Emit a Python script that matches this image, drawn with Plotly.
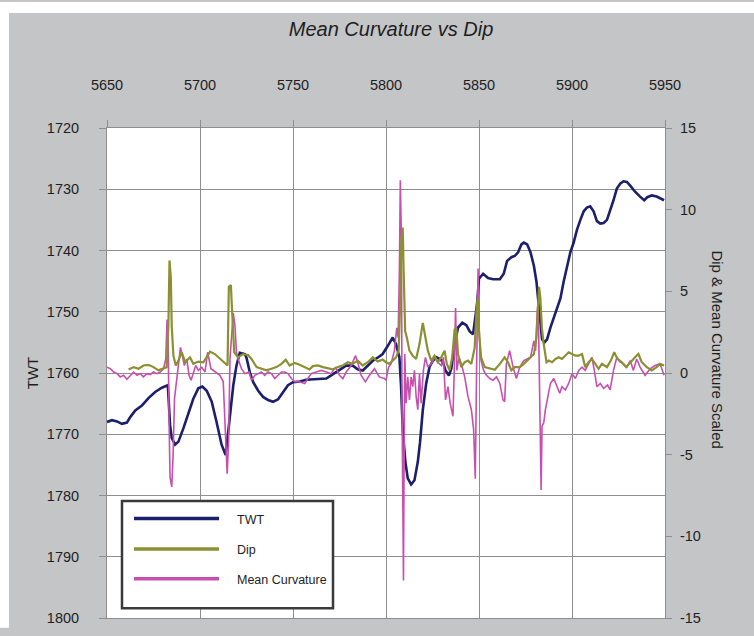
import plotly.graph_objects as go

# ---------------- data ----------------
twt_x = [5650.0, 5652.7, 5655.4, 5658.0, 5660.7, 5662.5, 5665.2, 5668.8, 5672.3, 5675.9,
         5679.5, 5682.7, 5683.9, 5684.8, 5686.6, 5688.4, 5691.1, 5693.8, 5696.4, 5699.1,
         5701.3, 5703.6, 5706.3, 5708.9, 5711.6, 5713.8, 5714.8, 5716.3, 5717.9, 5719.6,
         5721.4, 5724.1, 5725.0, 5726.8, 5728.6, 5731.3, 5733.9, 5736.6, 5739.3, 5742.0,
         5744.6, 5747.3, 5750.0, 5753.6, 5757.1, 5760.7, 5764.3, 5767.9, 5770.5, 5773.2,
         5775.9, 5778.6, 5782.1, 5784.8, 5787.5, 5790.2, 5792.9, 5795.5, 5798.2, 5800.9,
         5803.6, 5805.4, 5807.2, 5808.1, 5809.0, 5810.4, 5811.7, 5813.5, 5815.3, 5817.1,
         5818.3, 5819.8, 5821.6, 5823.4, 5825.2, 5827.0, 5828.8, 5830.6, 5832.0, 5833.8,
         5835.1, 5836.9, 5838.7, 5841.0, 5843.2, 5845.0, 5846.8, 5848.2, 5849.1, 5850.0,
         5852.2, 5854.9, 5857.6, 5861.2, 5863.3, 5865.1, 5867.4, 5869.2, 5871.0, 5872.8,
         5874.1, 5875.9, 5877.7, 5879.5, 5880.9, 5882.1, 5883.0, 5883.9, 5885.2, 5886.6,
         5888.4, 5890.2, 5892.0, 5893.8, 5895.5, 5897.3, 5899.1, 5900.9, 5902.7, 5904.5,
         5906.3, 5908.0, 5909.8, 5911.6, 5913.4, 5915.2, 5917.0, 5918.8, 5920.5, 5922.3,
         5924.1, 5925.9, 5927.7, 5929.5, 5931.3, 5933.9, 5936.6, 5938.8, 5940.5, 5942.9,
         5945.5, 5947.3, 5949.5]
twt_y = [1768.0, 1767.7, 1767.9, 1768.3, 1768.1, 1767.2, 1766.1, 1765.3, 1764.1, 1763.1,
         1762.4, 1762.0, 1768.5, 1770.6, 1771.7, 1771.2, 1769.0, 1766.6, 1764.2, 1762.5,
         1762.2, 1762.9, 1764.7, 1768.0, 1771.7, 1773.4, 1770.6, 1766.3, 1762.0, 1758.8,
         1756.7, 1756.9, 1757.5, 1759.9, 1761.5, 1762.9, 1763.9, 1764.4, 1764.7, 1764.3,
         1763.1, 1762.0, 1761.5, 1761.4, 1761.1, 1761.0, 1761.0, 1760.9, 1760.4, 1759.9,
         1759.4, 1758.8, 1758.8, 1759.4, 1759.6, 1758.8, 1758.0, 1757.5, 1756.9, 1755.6,
         1754.2, 1755.3, 1757.4, 1762.2, 1769.2, 1774.5, 1777.2, 1778.2, 1777.5, 1774.5,
         1771.3, 1766.0, 1761.7, 1759.0, 1758.0, 1757.4, 1757.7, 1758.2, 1759.6, 1760.4,
         1759.3, 1755.3, 1752.6, 1751.8, 1752.2, 1753.2, 1753.7, 1750.5, 1748.3, 1744.6,
         1743.8, 1744.5, 1744.7, 1744.7, 1743.8, 1741.7, 1741.1, 1740.9, 1740.3, 1739.0,
         1738.7, 1739.0, 1740.3, 1742.5, 1745.1, 1748.9, 1752.1, 1754.5, 1755.0, 1754.5,
         1752.6, 1751.0, 1749.4, 1747.8, 1745.1, 1742.5, 1740.3, 1738.7, 1736.6, 1735.0,
         1733.6, 1733.0, 1732.8, 1733.6, 1735.2, 1735.6, 1735.5, 1735.0, 1733.6, 1731.8,
         1729.9, 1729.1, 1728.7, 1728.8, 1729.4, 1730.4, 1731.2, 1731.8, 1731.3, 1731.0,
         1731.2, 1731.5, 1731.8]

dip_x = [5661.6, 5664.3, 5667.0, 5669.6, 5672.3, 5675.0, 5677.7, 5680.4, 5682.1, 5683.0,
         5683.6, 5684.3, 5684.8, 5685.7, 5687.0, 5688.4, 5690.2, 5692.0, 5694.6, 5696.4,
         5699.1, 5701.8, 5703.6, 5705.4, 5708.0, 5710.7, 5713.4, 5714.8, 5715.5, 5716.6,
         5717.3, 5718.4, 5720.5, 5723.2, 5725.9, 5727.7, 5730.4, 5733.0, 5735.7, 5738.4,
         5741.1, 5743.8, 5746.1, 5748.2, 5750.9, 5753.6, 5756.3, 5758.9, 5760.7, 5763.4,
         5766.1, 5768.8, 5771.4, 5774.1, 5776.8, 5779.5, 5782.1, 5784.8, 5787.5, 5790.2,
         5792.9, 5795.5, 5798.2, 5800.0, 5801.8, 5803.6, 5805.4, 5806.8, 5807.6, 5808.3,
         5809.0, 5809.5, 5810.3, 5811.2, 5812.6, 5814.4, 5816.2, 5818.0, 5819.8, 5821.2,
         5822.5, 5824.3, 5826.1, 5827.9, 5829.7, 5831.5, 5832.7, 5834.2, 5835.6, 5836.9,
         5837.8, 5838.7, 5840.5, 5842.3, 5844.1, 5845.9, 5847.7, 5848.6, 5849.3, 5850.0,
         5851.1, 5853.1, 5855.8, 5858.5, 5861.2, 5863.8, 5865.6, 5867.4, 5869.2, 5871.9,
         5874.1, 5875.9, 5877.7, 5879.5, 5880.9, 5881.6, 5882.3, 5883.0, 5883.8, 5884.8,
         5886.3, 5887.5, 5889.3, 5891.1, 5892.9, 5894.6, 5896.4, 5898.2, 5900.0, 5901.8,
         5903.6, 5905.4, 5907.1, 5908.9, 5910.7, 5912.5, 5914.3, 5916.1, 5918.8, 5920.9,
         5922.7, 5924.5, 5926.8, 5929.1, 5931.3, 5933.9, 5935.7, 5937.5, 5940.2, 5942.9,
         5945.5, 5947.3, 5949.5]
dip_y = [0.22, 0.36, 0.26, 0.46, 0.50, 0.36, 0.16, 0.26, 0.36, 2.87,
         6.89, 5.88, 2.87, 1.06, 0.46, 0.76, 1.27, 0.66, 0.96, 0.56,
         0.70, 0.66, 0.96, 1.31, 1.16, 0.86, 0.56, 0.46, 5.28, 5.38,
         3.67, 1.27, 0.96, 1.16, 1.10, 0.86, 0.36, 0.26, 0.16, 0.26,
         0.36, 0.56, 0.82, 0.46, 0.62, 0.50, 0.36, 0.22, 0.42, 0.46,
         0.36, 0.30, 0.22, 0.36, 0.46, 0.66, 0.56, 0.76, 0.46, 0.66,
         0.96, 0.70, 0.82, 0.66, 0.56, 0.76, 0.96, 1.37, 4.18, 8.19,
         8.90, 6.18, 2.57, 2.17, 1.37, 1.06, 0.86, 1.77, 3.07, 2.17,
         1.37, 0.76, 1.06, 0.66, 0.96, 1.37, 0.56, 0.16, 0.96, 2.67,
         2.77, 1.16, 0.36, 0.66, 0.76, 0.56, 1.57, 3.78, 4.58, 2.57,
         0.96, 0.36, 0.26, 0.20, 0.56, 0.96, 0.66, 0.16, 0.36, 0.36,
         0.56, 0.76, 0.96, 1.16, 2.17, 3.78, 5.28, 4.58, 2.77, 1.77,
         0.66, 0.76, 0.66, 0.86, 0.96, 0.86, 1.06, 1.27, 1.16, 1.06,
         1.06, 1.16, 0.36, 0.66, 0.86, 0.56, 0.26, 0.56, 0.36, 0.76,
         1.27, 0.86, 0.66, 0.36, 0.66, 0.96, 1.16, 0.66, 0.36, 0.16,
         0.36, 0.56, 0.46]

curv_x = [5650.0, 5651.8, 5653.6, 5655.4, 5657.1, 5658.9, 5660.7, 5662.5, 5664.3, 5666.1,
          5667.9, 5669.6, 5671.4, 5673.2, 5675.0, 5676.8, 5678.6, 5680.4, 5681.6, 5682.3,
          5682.9, 5683.4, 5683.9, 5684.8, 5685.5, 5686.3, 5687.3, 5688.4, 5689.5, 5690.5,
          5691.6, 5692.9, 5694.1, 5695.2, 5696.4, 5697.7, 5699.1, 5700.9, 5702.7, 5704.1,
          5705.9, 5708.0, 5710.7, 5712.5, 5713.8, 5714.6, 5715.4, 5716.1, 5717.0, 5717.9,
          5718.8, 5719.6, 5720.5, 5722.3, 5724.1, 5726.4, 5727.7, 5729.5, 5731.3, 5733.0,
          5734.8, 5736.6, 5738.4, 5740.2, 5742.0, 5743.8, 5745.5, 5747.3, 5749.1, 5750.9,
          5753.6, 5756.3, 5758.0, 5759.8, 5762.5, 5765.2, 5767.9, 5770.5, 5772.9, 5775.0,
          5776.8, 5778.6, 5781.3, 5783.6, 5784.8, 5786.6, 5788.9, 5791.1, 5793.8, 5796.4,
          5799.1, 5800.0, 5801.4, 5802.7, 5804.5, 5805.8, 5806.5, 5807.2, 5807.7, 5808.3,
          5808.6, 5809.0, 5809.4, 5809.7, 5810.1, 5810.8, 5811.7, 5812.6, 5813.5, 5814.4,
          5815.3, 5816.2, 5817.1, 5818.0, 5818.9, 5820.1, 5821.2, 5822.5, 5824.3, 5826.1,
          5827.9, 5829.7, 5830.9, 5832.0, 5833.3, 5834.5, 5836.0, 5836.7, 5837.4, 5838.1,
          5839.2, 5840.5, 5842.3, 5844.1, 5845.9, 5847.1, 5848.0, 5848.7, 5849.5, 5850.2,
          5851.1, 5852.5, 5854.0, 5855.8, 5857.6, 5859.4, 5861.2, 5862.9, 5863.8, 5864.7,
          5866.5, 5868.3, 5870.1, 5871.9, 5874.1, 5875.9, 5877.7, 5879.5, 5880.4, 5881.3,
          5881.8, 5882.3, 5882.7, 5883.0, 5883.4, 5883.9, 5884.8, 5885.7, 5886.6, 5888.4,
          5890.2, 5892.0, 5893.4, 5894.6, 5896.4, 5898.2, 5900.0, 5901.8, 5903.6, 5905.4,
          5907.1, 5908.9, 5910.7, 5912.0, 5913.4, 5915.2, 5917.0, 5919.1, 5920.5, 5922.3,
          5924.1, 5925.9, 5927.7, 5929.5, 5931.3, 5933.0, 5934.8, 5936.6, 5939.3, 5942.0,
          5944.6, 5947.3, 5949.5]
curv_y = [0.36, 0.26, 0.06, -0.04, -0.24, -0.14, -0.38, -0.14, 0.06, -0.14,
          -0.04, -0.24, -0.04, -0.10, 0.06, -0.04, 0.06, 0.26, 0.86, 3.27,
          1.87, -3.15, -6.37, -6.97, -5.16, -1.55, -0.54, 0.46, 1.57, 1.06,
          0.46, 0.86, -0.14, -0.44, 0.06, 0.46, 0.16, 0.36, 0.06, 1.27,
          0.26, 0.06, -0.14, -0.54, -3.55, -6.16, -4.16, 0.86, 2.27, 3.67,
          2.87, 1.27, 0.86, 0.26, -0.04, 0.06, -0.44, -0.14, -0.04, 0.06,
          -0.14, 0.06, -0.04, -0.34, -0.14, 0.06, 0.06, -0.04, -0.34, -0.54,
          -0.54, -0.64, -0.34, -0.04, 0.06, 0.16, 0.06, -0.04, 0.36, -0.14,
          -0.34, 0.06, 0.46, 1.06, 0.66, -0.14, -0.54, -0.14, 0.26, -0.24,
          -0.34, -0.44, 0.36, 0.56, 1.37, 2.77, 2.17, 6.18, 11.80, 8.19,
          -1.85, -7.87, -12.70, -5.86, 1.16, -1.85, -0.24, -1.65, -0.24, -0.84,
          0.16, -1.45, -2.25, -0.04, -1.85, 0.16, 0.96, 0.36, 0.56, 0.96,
          0.66, 0.46, 0.96, -1.65, -0.84, -1.85, -2.65, 0.16, 3.98, 0.16,
          0.96, 0.56, -0.24, -1.45, -2.25, -3.45, -6.47, 0.16, 6.39, 2.17,
          0.76, 0.16, -0.14, -0.34, -0.44, -0.24, -0.64, -1.65, -1.75, 0.56,
          1.37, 0.36, -0.34, 0.36, 0.76, 0.86, 0.96, 1.97, 1.37, 3.78,
          4.38, 0.96, -1.85, -5.86, -7.17, -3.25, -3.05, -2.25, -1.65, -0.64,
          -0.34, -0.84, -1.24, -0.84, -1.04, -0.64, -0.04, -0.34, 0.16, 0.36,
          0.16, 0.56, 0.96, 0.16, -0.84, -0.64, -0.94, -0.74, -1.04, 0.16,
          0.96, 0.66, 0.56, 0.36, 0.76, 0.16, 0.86, 0.36, -0.14, 0.26,
          0.46, 0.56, -0.14]

x_ticks = [5650, 5700, 5750, 5800, 5850, 5900, 5950]
twt_ticks = [1720, 1730, 1740, 1750, 1760, 1770, 1780, 1790, 1800]
scaled_ticks = [15, 10, 5, 0, -5, -10, -15]
scaled_labels = ["15", "10", "5", "0", "-5", "-10", "-15"]

series_names = ["TWT", "Dip", "Mean Curvature"]
series_colors = {"TWT": "#1c1f6c", "Dip": "#8b9032", "Mean Curvature": "#c84fae"}
series_widths = {"TWT": 2.6, "Dip": 2.2, "Mean Curvature": 1.6}

FONT = "Liberation Sans, Arial, sans-serif"
TXT = "#1e1e1e"
GRID = "#8e8e8e"

fig = go.Figure()
fig.add_trace(go.Scatter(x=twt_x, y=twt_y, name="TWT", mode="lines", yaxis="y",
                         line=dict(color=series_colors["TWT"], width=series_widths["TWT"])))
fig.add_trace(go.Scatter(x=curv_x, y=curv_y, name="Mean Curvature", mode="lines", yaxis="y2",
                         line=dict(color=series_colors["Mean Curvature"], width=series_widths["Mean Curvature"])))
fig.add_trace(go.Scatter(x=dip_x, y=dip_y, name="Dip", mode="lines", yaxis="y2",
                         line=dict(color=series_colors["Dip"], width=series_widths["Dip"])))

# ---------------- manual legend (long line samples like the reference) ----------------
W, H = 754, 636
ML, MR, MT, MB = 107, 89, 128, 10
PW, PH = W - ML - MR, H - MT - MB


def px(p):
    return (p - ML) / PW


def py(q):
    return (H - MB - q) / PH


shapes = [
    # white strips at the very top and left of the image
    dict(type="rect", xref="paper", yref="paper", x0=px(0), x1=px(W), y0=py(11), y1=py(0),
         fillcolor="white", line=dict(width=0), layer="above"),
    dict(type="rect", xref="paper", yref="paper", x0=px(0), x1=px(9), y0=py(H), y1=py(0),
         fillcolor="white", line=dict(width=0), layer="above"),
    # legend frame
    dict(type="rect", xref="paper", yref="paper", x0=px(122), x1=px(333), y0=py(616), y1=py(507),
         fillcolor="white", line=dict(color="#3a3a3a", width=2.5), layer="above"),
]
annotations = []
row_y = [525, 556, 586]
for name, ry in zip(series_names, row_y):
    shapes.append(dict(type="line", xref="paper", yref="paper", x0=px(134), x1=px(219),
                       y0=py(ry), y1=py(ry), layer="above",
                       line=dict(color=series_colors[name], width=3.5)))
    annotations.append(dict(text=name, xref="paper", yref="paper", x=px(235), y=py(ry + 1),
                            xanchor="left", yanchor="middle", showarrow=False,
                            font=dict(family=FONT, size=12.5, color=TXT)))

annotations.append(dict(text="Dip & Mean Curvature Scaled", xref="paper", yref="paper",
                        x=px(718), y=py(353), textangle=90, showarrow=False,
                        xanchor="center", yanchor="middle",
                        font=dict(family=FONT, size=15, color=TXT)))

fig.update_layout(
    width=W, height=H,
    margin=dict(l=ML, r=MR, t=MT, b=MB, pad=0),
    paper_bgcolor="#c3c5c7",
    plot_bgcolor="white",
    showlegend=False,
    title=dict(text="<i>Mean Curvature vs Dip</i>", xref="container", yref="container",
               x=391 / W, y=1 - 29 / H, xanchor="center", yanchor="middle",
               font=dict(family=FONT, size=20, color=TXT)),
    xaxis=dict(range=[5650, 5950], side="top", tickvals=x_ticks, ticks="outside", ticklen=7,
               tickcolor=GRID, showgrid=True, gridcolor=GRID, gridwidth=1, showline=True,
               linecolor=GRID, mirror=True, zeroline=False, ticklabelstandoff=24,
               tickfont=dict(family=FONT, size=14.5, color=TXT)),
    yaxis=dict(range=[1800, 1720], tickvals=twt_ticks, ticks="outside", ticklen=7,
               tickcolor=GRID, showgrid=True, gridcolor=GRID, gridwidth=1, showline=True,
               linecolor=GRID, mirror=True, zeroline=False, ticklabelstandoff=17,
               tickfont=dict(family=FONT, size=14.5, color=TXT),
               title=dict(text="TWT", standoff=4, font=dict(family=FONT, size=15, color=TXT))),
    yaxis2=dict(range=[-15, 15], overlaying="y", side="right", tickvals=scaled_ticks,
                ticktext=scaled_labels,
                ticks="outside", ticklen=6, tickcolor=GRID, showgrid=False, zeroline=False,
                showline=True, linecolor=GRID, ticklabelstandoff=5,
                tickfont=dict(family=FONT, size=14.5, color=TXT)),
    shapes=shapes,
    annotations=annotations,
)

fig.write_html("out.html")
